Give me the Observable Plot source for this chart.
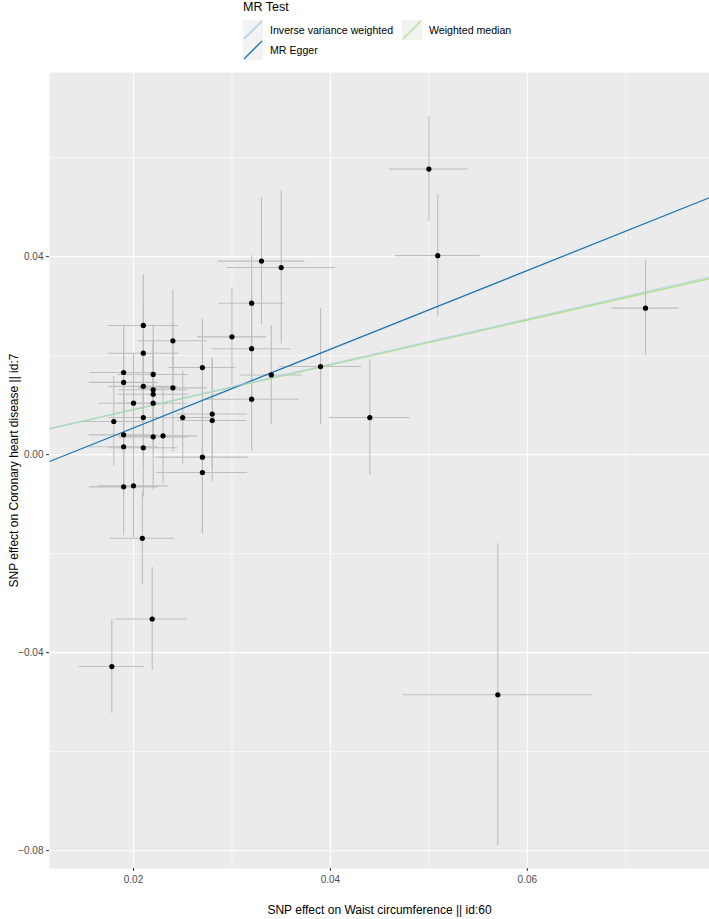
<!DOCTYPE html>
<html>
<head>
<meta charset="utf-8">
<script src="https://cdn.jsdelivr.net/npm/d3@7"></script>
<script src="https://cdn.jsdelivr.net/npm/@observablehq/plot@0.6"></script>
<style>
  html, body { margin: 0; padding: 0; background: #ffffff; }
  body { width: 709px; height: 919px; overflow: hidden; font-family: "Liberation Sans", Arial, sans-serif; }
  #legend { position: relative; width: 709px; height: 65px; }
  #legend .title { position: absolute; left: 243px; top: 0px; font-size: 12.5px; color: #000; }
  #legend .item { position: absolute; display: flex; align-items: center; font-size: 10.6px; color: #000; }
  #legend .item svg { display: block; margin-right: 7px; }
</style>
</head>
<body>
<div id="legend"></div>
<div id="chart"></div>
<script>
// ---- data ----
const snpX  = [0.0500, 0.0509, 0.0720, 0.0570, 0.0209, 0.0219, 0.0178, 0.0330, 0.0350, 0.0320,
               0.0300, 0.0320, 0.0240, 0.0270, 0.0390, 0.0340, 0.0320, 0.0280, 0.0280, 0.0250,
               0.0210, 0.0210, 0.0190, 0.0220, 0.0190, 0.0210, 0.0240, 0.0220, 0.0220, 0.0200,
               0.0220, 0.0210, 0.0180, 0.0190, 0.0220, 0.0230, 0.0190, 0.0210, 0.0270, 0.0270,
               0.0190, 0.0200, 0.0440];
const snpY  = [0.0577, 0.0402, 0.0296, -0.0485, -0.0169, -0.0332, -0.0428, 0.0391, 0.0378, 0.0306,
               0.0238, 0.0214, 0.0230, 0.0176, 0.0178, 0.0161, 0.0112, 0.0082, 0.0069, 0.0075,
               0.0261, 0.0205, 0.0166, 0.0162, 0.0146, 0.0138, 0.0135, 0.0131, 0.0122, 0.0104,
               0.0104, 0.0075, 0.0067, 0.0040, 0.0036, 0.0038, 0.0016, 0.0014, -0.0005, -0.0036,
               -0.0065, -0.0063, 0.0075];
const seX   = [0.0040, 0.0043, 0.0034, 0.0096, 0.0033, 0.0036, 0.0033, 0.0044, 0.0055, 0.0033,
               0.0035, 0.0040, 0.0035, 0.0034, 0.0042, 0.0031, 0.0048, 0.0036, 0.0035, 0.0033,
               0.0036, 0.0036, 0.0034, 0.0036, 0.0035, 0.0035, 0.0035, 0.0035, 0.0036, 0.0035,
               0.0035, 0.0035, 0.0032, 0.0035, 0.0035, 0.0035, 0.0035, 0.0035, 0.0047, 0.0046,
               0.0035, 0.0036, 0.0041];
const seY   = [0.0106, 0.0124, 0.0096, 0.0305, 0.0094, 0.0104, 0.0095, 0.0128, 0.0154, 0.0096,
               0.0098, 0.0110, 0.0103, 0.0098, 0.0117, 0.0100, 0.0105, 0.0113, 0.0123, 0.0094,
               0.0102, 0.0100, 0.0096, 0.0100, 0.0100, 0.0105, 0.0130, 0.0100, 0.0100, 0.0100,
               0.0100, 0.0100, 0.0091, 0.0100, 0.0107, 0.0097, 0.0100, 0.0100, 0.0151, 0.0125,
               0.0099, 0.0105, 0.0116];

const methods    = ["Inverse variance weighted", "MR Egger", "Weighted median"];
const slopes     = [0.457, 0.795, 0.453];
const intercepts = [0, -0.0105, 0];
const methodColors = ["#A6CEE3", "#1F78B4", "#B2DF8A"];
const drawOrder  = [2, 1, 0]; // weighted median, Egger, IVW (IVW blended on top)
const lineOpacity = [0.65, 1, 1];

const xTicks = [0.02, 0.04, 0.06];
const xMinor = [0.03, 0.05, 0.07];
const yTicks = [-0.08, -0.04, 0.00, 0.04];
const yMinor = [-0.06, -0.02, 0.02, 0.06];

const xTitle = "SNP effect on Waist circumference || id:60";
const yTitle = "SNP effect on Coronary heart disease || id:7";
const legendTitle = "MR Test";

// ---- derived tables ----
const snps = snpX.map((x, i) => ({
  x, y: snpY[i],
  x1: x - seX[i], x2: x + seX[i],
  y1: snpY[i] - seY[i], y2: snpY[i] + seY[i]
}));

const xDomain = [0.01147, 0.0785];
const yDomain = [-0.0836, 0.0772];

const fits = drawOrder.map(i => ({
  method: methods[i],
  x1: xDomain[0], y1: intercepts[i] + slopes[i] * xDomain[0],
  x2: xDomain[1], y2: intercepts[i] + slopes[i] * xDomain[1],
  color: methodColors[i], opacity: lineOpacity[i]
}));
const fmt = d => (d < 0 ? "\u2212" : "") + Math.abs(d).toFixed(2);

const chart = Plot.plot({
  width: 709,
  height: 854,
  marginTop: 7,
  marginBottom: 51,
  marginLeft: 49,
  marginRight: 0,
  style: { background: "#ffffff", fontFamily: "'Liberation Sans', Arial, sans-serif", fontSize: "10px", overflow: "visible" },
  x: { domain: xDomain },
  y: { domain: yDomain },
  marks: [
    Plot.frame({ fill: "#EBEBEB", stroke: null }),
    Plot.gridX(xMinor, { stroke: "#ffffff", strokeOpacity: 1, strokeWidth: 0.6 }),
    Plot.gridY(yMinor, { stroke: "#ffffff", strokeOpacity: 1, strokeWidth: 0.6 }),
    Plot.gridX(xTicks, { stroke: "#ffffff", strokeOpacity: 1, strokeWidth: 1.1 }),
    Plot.gridY(yTicks, { stroke: "#ffffff", strokeOpacity: 1, strokeWidth: 1.1 }),
    Plot.ruleY(snps, { y: "y", x1: "x1", x2: "x2", stroke: "#BEBEBE", strokeWidth: 1.1 }),
    Plot.ruleX(snps, { x: "x", y1: "y1", y2: "y2", stroke: "#BEBEBE", strokeWidth: 1.1 }),
    Plot.link(fits, { x1: "x1", y1: "y1", x2: "x2", y2: "y2", stroke: "color", strokeOpacity: "opacity", strokeWidth: 1.3 }),
    Plot.dot(snps, { x: "x", y: "y", r: 2.6, fill: "#000000", stroke: null }),
    Plot.axisX({
      ticks: xTicks, tickFormat: fmt, tickSize: 3, tickPadding: 4, stroke: "#333333",
      color: "#4D4D4D", fontSize: 10,
      label: xTitle, labelAnchor: "center", labelArrow: "none", labelOffset: 45
    }),
    Plot.axisY({
      ticks: yTicks, tickFormat: fmt, tickSize: 3, tickPadding: 3, stroke: "#333333",
      color: "#4D4D4D", fontSize: 10,
      label: yTitle, labelAnchor: "center", labelArrow: "none", labelOffset: 40
    })
  ]
});
chart.querySelectorAll("g[aria-label='x-axis label'] text, g[aria-label='y-axis label'] text").forEach(t => {
  t.setAttribute("fill", "#000000");
  t.style.fontSize = "12px";
});
document.getElementById("chart").appendChild(chart);

// ---- legend ----
const legend = document.getElementById("legend");
const title = document.createElement("div");
title.className = "title";
title.textContent = legendTitle;
legend.appendChild(title);
const positions = [[243, 20], [243, 40], [402, 20]];
methods.forEach((m, i) => {
  const item = document.createElement("div");
  item.className = "item";
  item.style.left = positions[i][0] + "px";
  item.style.top = positions[i][1] + "px";
  item.innerHTML = `<svg width="20" height="20"><rect width="20" height="20" fill="#F2F2F2"/>` +
    `<line x1="1" y1="19" x2="19" y2="1" stroke="${methodColors[i]}" stroke-width="1.3"/></svg><span>${m}</span>`;
  legend.appendChild(item);
});
</script>
</body>
</html>
